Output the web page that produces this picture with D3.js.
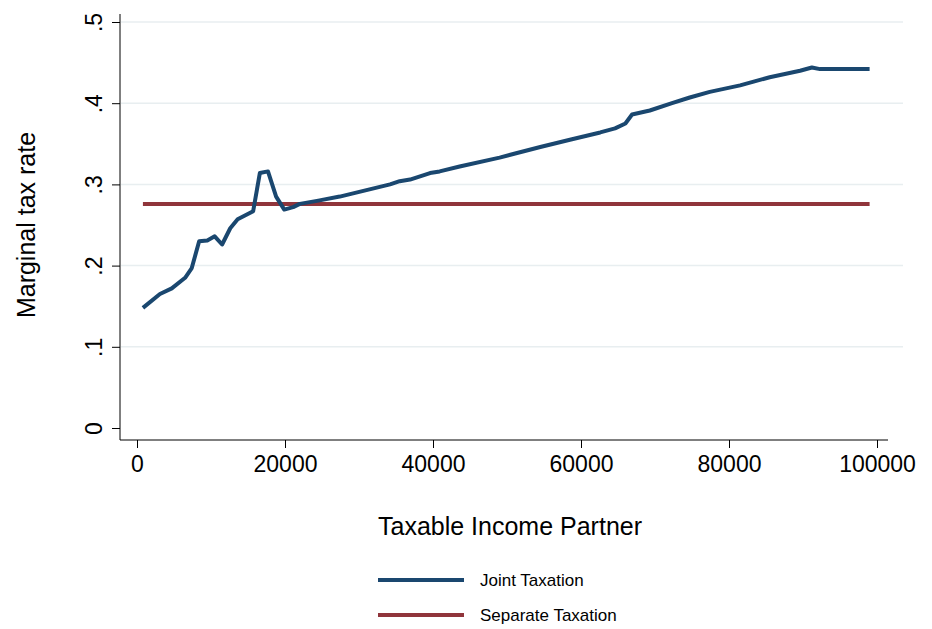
<!DOCTYPE html>
<html><head><meta charset="utf-8">
<script src="https://cdn.jsdelivr.net/npm/d3@7"></script>
<style>body{margin:0;background:#fff}svg{font-family:"Liberation Sans",Arial,sans-serif}</style>
</head><body><div id="chart"></div>
<script>
// Joint taxation curve
const income = [800,3100,4700,6500,7400,8400,9500,10500,11500,12600,13600,15700,16600,17700,18800,19900,21100,22000,24500,27400,34200,35500,36900,39600,40900,43600,49000,51100,54500,58500,62600,64600,66000,66900,69300,72300,74700,77400,81500,85500,89600,91200,92300,99000];
const jointRate = [0.148,0.165,0.172,0.185,0.197,0.230,0.231,0.236,0.226,0.246,0.257,0.267,0.314,0.316,0.285,0.269,0.272,0.276,0.280,0.285,0.300,0.304,0.306,0.314,0.316,0.322,0.333,0.338,0.346,0.355,0.364,0.369,0.375,0.386,0.391,0.400,0.407,0.414,0.422,0.432,0.440,0.444,0.442,0.442];
const separateIncome = [800,99000];
const separateRate = [0.276,0.276];
const xTicks = [0,20000,40000,60000,80000,100000];
const yTicks = [0,0.1,0.2,0.3,0.4,0.5];
const legendLabels = ["Joint Taxation","Separate Taxation"];
const colors = ["#1a476f","#90353b"];

const W = 932, H = 629;
const svg = d3.select("#chart").append("svg").attr("width", W).attr("height", H);

const x = d3.scaleLinear().domain([0,100000]).range([137,877]);
const y = d3.scaleLinear().domain([0,0.5]).range([428,22]);

// gridlines
svg.append("g").selectAll("line").data(yTicks.slice(1)).join("line")
  .attr("x1",121).attr("x2",903).attr("y1",d=>y(d)).attr("y2",d=>y(d))
  .attr("stroke","#e8eef0").attr("stroke-width",1.5);

// axes
const xAxis = svg.append("g").attr("transform","translate(0,440)")
  .call(d3.axisBottom(x).tickValues(xTicks).tickFormat(d3.format("d")).tickSize(8).tickSizeOuter(0));
xAxis.select(".domain").attr("d","M120,0H888");
xAxis.selectAll("text").attr("font-size",23).attr("dy","0.9em").attr("fill","#000");

const yAxis = svg.append("g").attr("transform","translate(120,0)")
  .call(d3.axisLeft(y).tickValues(yTicks).tickFormat(d=>d===0?"0":d3.format(".1f")(d).replace(/^0/,"")).tickSize(8).tickSizeOuter(0));
yAxis.select(".domain").attr("d","M0,14V440");
yAxis.selectAll("text").attr("font-size",23).attr("fill","#000")
  .attr("text-anchor","middle").attr("x",0).attr("y",0).attr("dy",0)
  .attr("transform","translate(-18,0) rotate(-90)");
svg.selectAll(".tick line").attr("stroke","#000");

// titles
svg.append("text").attr("x",510).attr("y",535).attr("text-anchor","middle").attr("font-size",25).text("Taxable Income Partner");
svg.append("text").attr("transform","translate(35,225) rotate(-90)").attr("text-anchor","middle").attr("font-size",25).text("Marginal tax rate");

// lines
const line = d3.line().x(d=>x(d[0])).y(d=>y(d[1]));
svg.append("path").datum(d3.zip(separateIncome,separateRate)).attr("d",line)
  .attr("fill","none").attr("stroke",colors[1]).attr("stroke-width",4);
svg.append("path").datum(d3.zip(income,jointRate)).attr("d",line)
  .attr("fill","none").attr("stroke",colors[0]).attr("stroke-width",4).attr("stroke-linejoin","round");

// legend
const lg = svg.append("g").selectAll("g").data(legendLabels).join("g")
  .attr("transform",(d,i)=>`translate(0,${580+i*35})`);
lg.append("line").attr("x1",378).attr("x2",464).attr("stroke",(d,i)=>colors[i]).attr("stroke-width",4);
lg.append("text").attr("x",480).attr("dy","0.35em").attr("font-size",17).text(d=>d);
</script></body></html>
